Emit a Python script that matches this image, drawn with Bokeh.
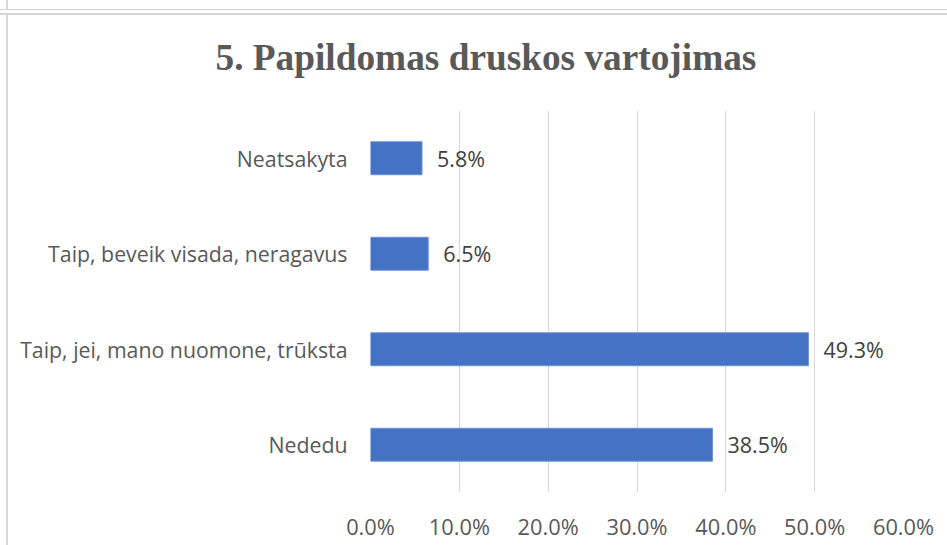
from bokeh.plotting import figure
from bokeh.models import FactorRange, Range1d, FixedTicker, ColumnDataSource
from bokeh.core.properties import value
from bokeh.embed import file_html
from bokeh.resources import INLINE

title_text = "5. Papildomas druskos vartojimas"
categories = ["Nededu", "Taip, jei, mano nuomone, trūksta", "Taip, beveik visada, neragavus", "Neatsakyta"]
values = [38.5, 49.3, 6.5, 5.8]
x_ticks = [0, 10, 20, 30, 40, 50, 60]

labels = [f"{v:.1f}%" for v in values]
src = ColumnDataSource(dict(cat=categories, val=values, lab=labels))

W, H = 947, 545
p = figure(width=W, height=H, output_backend="svg", toolbar_location=None,
           y_range=FactorRange(factors=categories), x_range=Range1d(0, 60),
           min_border_left=370, min_border_right=44, min_border_top=110, min_border_bottom=53)

p.hbar(y="cat", right="val", left=0, height=0.345, source=src,
       fill_color="#4472C4", line_color="#6f93d3", line_width=1)
p.text(x="val", y="cat", text="lab", source=src, x_offset=15,
       text_baseline="middle", text_align="left",
       text_font=value("Open Sans"), text_font_size="21.5px", text_color="#404040")

p.title.text = title_text
p.title.text_font = "Liberation Serif"
p.title.text_font_style = "bold"
p.title.text_font_size = "37.3px"
p.title.text_color = "#595959"
p.title.align = "left"
p.title.offset = -155
p.title.standoff = 66

p.xaxis.ticker = FixedTicker(ticks=x_ticks)
p.xaxis.major_label_overrides = {t: f"{t:.1f}%" for t in x_ticks}
for ax in (p.xaxis[0], p.yaxis[0]):
    ax.axis_line_color = None
    ax.major_tick_line_color = None
    ax.minor_tick_line_color = None
    ax.major_tick_out = 0
    ax.major_tick_in = 0
    ax.minor_tick_out = 0
    ax.major_label_text_font = "Open Sans"
    ax.major_label_text_font_size = "21.3px"
    ax.major_label_text_color = "#595959"
p.xaxis.major_label_text_font_size = "21.8px"
p.xaxis.major_label_standoff = 19
p.yaxis.major_label_standoff = 23

p.xgrid.grid_line_color = "#d9d9d9"
p.xgrid.grid_line_width = 1.2
p.ygrid.grid_line_color = None
p.outline_line_color = None
p.background_fill_color = "white"
p.border_fill_color = None

# document frame lines drawn behind the transparent border area
g = "linear-gradient(#d6d6d6,#d6d6d6)"
p.styles = {
    "background-color": "white",
    "background-image": ", ".join([g] * 4),
    "background-size": "100% 1px, 100% 2px, 2px 10px, 2px 100%",
    "background-position": "0px 9px, 0px 13px, 6px 0px, 6px 13px",
    "background-repeat": "no-repeat",
}

open("out.html", "w").write(file_html(p, INLINE))
